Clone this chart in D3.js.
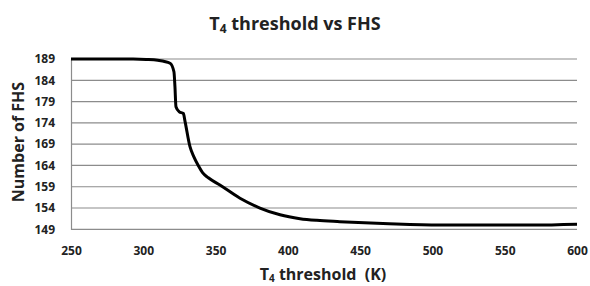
<!DOCTYPE html>
<html>
<head>
<meta charset="utf-8">
<script src="https://cdn.jsdelivr.net/npm/d3@7"></script>
<style>
  body { margin: 0; background: #fff; }
  text { font-family: "Open Sans", "Liberation Sans", sans-serif; font-weight: bold; fill: #222; }
</style>
</head>
<body>
<svg width="590" height="286"></svg>
<script>
// threshold (K) vs number of FHS
var thresholds = [250, 270, 293, 302, 310, 318.5, 321.2, 321.9, 322.6, 324.9, 327.7, 328.9, 332.3, 335, 338, 341, 345, 353, 366.9, 380.7, 394.6, 408.4, 420, 436, 470, 505, 540, 570, 600];
var fhsCounts  = [189, 189, 189, 188.9, 188.7, 188, 186, 182.5, 177.8, 176.6, 176.2, 174.3, 168.4, 166, 164, 162.3, 161.1, 159.4, 156.3, 154, 152.4, 151.5, 151.1, 150.8, 150.3, 150, 150, 150, 150.2];
var yTicks = [149, 154, 159, 164, 169, 174, 179, 184, 189];
var xTicks = [250, 300, 350, 400, 450, 500, 550, 600];

var svg = d3.select('svg');
var plotLeft = 71, plotRight = 577, plotTop = 59, plotBottom = 229.3;

var xScale = d3.scaleLinear().domain([250, 600]).range([plotLeft, plotRight]);
var yScale = d3.scaleLinear().domain([149, 189]).range([plotBottom, plotTop]);

// gridlines
svg.append('g')
  .selectAll('line')
  .data(yTicks)
  .enter()
  .append('line')
    .attr('x1', plotLeft)
    .attr('x2', plotRight)
    .attr('y1', d => yScale(d))
    .attr('y2', d => yScale(d))
    .attr('stroke', '#8c8c8c')
    .attr('stroke-width', 1.2);

// y axis
var yAxis = d3.axisLeft(yScale).tickValues(yTicks).tickSize(0).tickPadding(16);
var gy = svg.append('g').attr('transform', 'translate(' + plotLeft + ',0)').call(yAxis);
gy.select('.domain').attr('stroke', '#8c8c8c').attr('stroke-width', 1.2);
gy.selectAll('text').style('font-size', '12px').style('font-family', null);

// x axis
var xAxis = d3.axisBottom(xScale).tickValues(xTicks).tickSize(0).tickPadding(17);
var gx = svg.append('g').attr('transform', 'translate(0,' + plotBottom + ')').call(xAxis);
gx.select('.domain').remove();
gx.selectAll('text').style('font-size', '12px').style('font-family', null);

// data line
var line = d3.line()
  .x((d, i) => xScale(thresholds[i]))
  .y(d => yScale(d))
  .curve(d3.curveMonotoneX);

svg.append('path')
  .datum(fhsCounts)
  .attr('d', line)
  .attr('fill', 'none')
  .attr('stroke', '#000')
  .attr('stroke-width', 3)
  .attr('stroke-linejoin', 'round');

// title
var title = svg.append('text')
  .attr('x', 295)
  .attr('y', 30)
  .attr('text-anchor', 'middle')
  .style('font-size', '18px');
title.append('tspan').text('T');
title.append('tspan').attr('baseline-shift', '-25%').style('font-size', '12px').text('4');
title.append('tspan').text(' threshold vs FHS');

// x axis label
var xl = svg.append('text')
  .attr('x', 323)
  .attr('y', 280)
  .attr('text-anchor', 'middle')
  .style('font-size', '16px')
  .style('white-space', 'pre');
xl.append('tspan').text('T');
xl.append('tspan').attr('baseline-shift', '-20%').style('font-size', '10px').text('4');
xl.append('tspan').text(' threshold  (K)');

// y axis label
svg.append('text')
  .attr('transform', 'translate(24,142) rotate(-90)')
  .attr('text-anchor', 'middle')
  .style('font-size', '16px')
  .text('Number of FHS');
</script>
</body>
</html>
